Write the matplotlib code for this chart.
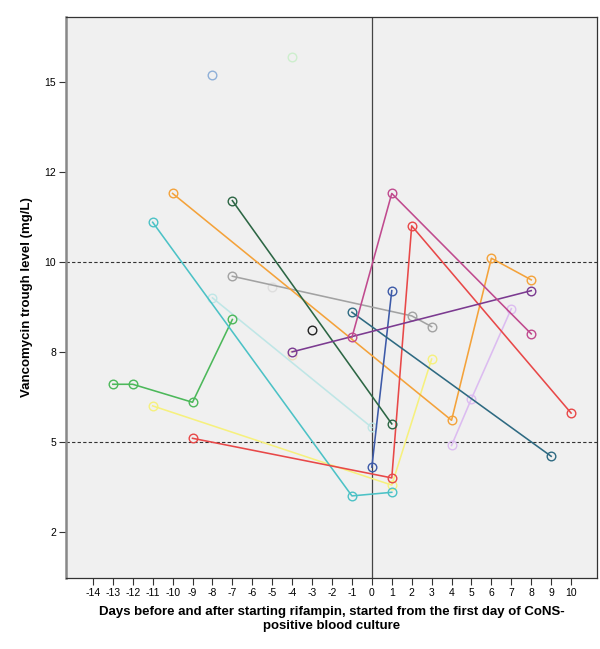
"""
Vancomycin trough levels around the start of rifampin, one line per patient.
"""
import matplotlib.pyplot as plt
import matplotlib as mpl

mpl.rcParams.update({
    'font.family': ['Liberation Sans', 'DejaVu Sans'],
    'font.size': 7,
})

# ---- data: (days, trough level mg/L) per patient ----
days_orange = [-10, 4, 6, 8];      trough_orange = [11.9, 5.6, 10.1, 9.5]
days_dkgreen = [-7, 1];            trough_dkgreen = [11.7, 5.5]
days_cyan = [-11, -1, 1];          trough_cyan = [11.1, 3.5, 3.6]
days_grey = [-7, 2, 3];            trough_grey = [9.6, 8.5, 8.2]
days_purple = [-4, 8];             trough_purple = [7.5, 9.2]
days_magenta = [-1, 1, 8];         trough_magenta = [7.9, 11.9, 8.0]
days_red = [-9, 1, 2, 10];         trough_red = [5.1, 4.0, 11.0, 5.8]
days_blue = [0, 1];                trough_blue = [4.3, 9.2]
days_teal = [-1, 9];               trough_teal = [8.6, 4.6]
days_green = [-13, -12, -9, -7];   trough_green = [6.6, 6.6, 6.1, 8.4]
days_ltcyan = [-8, 0];             trough_ltcyan = [9.0, 5.4]
days_yellow = [-11, 1, 3];         trough_yellow = [6.0, 3.8, 7.3]
days_lavender = [4, 5, 7];         trough_lavender = [4.9, 6.2, 8.7]
days_ltblue = [-8];                trough_ltblue = [15.2]
days_palegreen = [-4];             trough_palegreen = [15.7]
days_black = [-3];                 trough_black = [8.1]
days_white = [-5];                 trough_white = [9.3]
days_beige = [-4];                 trough_beige = [7.4]

patients = [
    (days_ltblue, trough_ltblue, '#8fb0d8'),
    (days_palegreen, trough_palegreen, '#cdeecd'),
    (days_white, trough_white, '#dedede'),
    (days_beige, trough_beige, '#eedcbc'),
    (days_ltcyan, trough_ltcyan, '#bfe6e6'),
    (days_yellow, trough_yellow, '#f6f07e'),
    (days_lavender, trough_lavender, '#dcbcf0'),
    (days_grey, trough_grey, '#a2a2a2'),
    (days_green, trough_green, '#4cb85a'),
    (days_orange, trough_orange, '#f4a23a'),
    (days_cyan, trough_cyan, '#4cc2c6'),
    (days_red, trough_red, '#e84848'),
    (days_blue, trough_blue, '#3d5aa8'),
    (days_teal, trough_teal, '#2e6a82'),
    (days_dkgreen, trough_dkgreen, '#2c6644'),
    (days_purple, trough_purple, '#7b3a90'),
    (days_magenta, trough_magenta, '#c04a8e'),
    (days_black, trough_black, '#222222'),
]

x_ticks = list(range(-14, 11))
y_ticks = [2.5, 5, 7.5, 10, 12.5, 15]
y_labels = ['2', '5', '8', '10', '12', '15']

fig = plt.figure(figsize=(6.0, 6.49), dpi=100)
ax = fig.add_axes([0.11, 0.1094, 0.885, 0.8644])
ax.set_facecolor('#f0f0f0')

ax.axhline(10, color='#333333', lw=0.8, ls=(0, (3, 2)), zorder=1)
ax.axhline(5, color='#333333', lw=0.8, ls=(0, (3, 2)), zorder=1)
ax.axvline(0, color='#444444', lw=0.9, zorder=1)

for d, t, c in patients:
    ax.plot(d, t, color=c, lw=1.15, marker='o', ms=6.2, mfc='none',
            mec=c, mew=1.0, zorder=3)

ax.set_xlim(-15.35, 11.3)
ax.set_ylim(1.22, 16.8)
ax.set_xticks(x_ticks)
ax.set_xticklabels([str(v) for v in x_ticks])
ax.set_yticks(y_ticks)
ax.set_yticklabels(y_labels)
ax.tick_params(direction='out', length=5, width=0.8, color='#333333',
               labelsize=7.5, pad=2)

for s in ['top', 'right', 'bottom']:
    ax.spines[s].set_color('#333333')
    ax.spines[s].set_linewidth(0.9)
ax.spines['left'].set_color('#888888')
ax.spines['left'].set_linewidth(1.8)

ax.set_xlabel('Days before and after starting rifampin, started from the first day of CoNS-\n'
              'positive blood culture', fontsize=9.5, fontweight='bold', labelpad=6,
              linespacing=1.25)
ax.set_ylabel('Vancomycin trough level (mg/L)', fontsize=9.5, fontweight='bold', labelpad=8)

plt.savefig('out.png', dpi=100)
plt.close()
